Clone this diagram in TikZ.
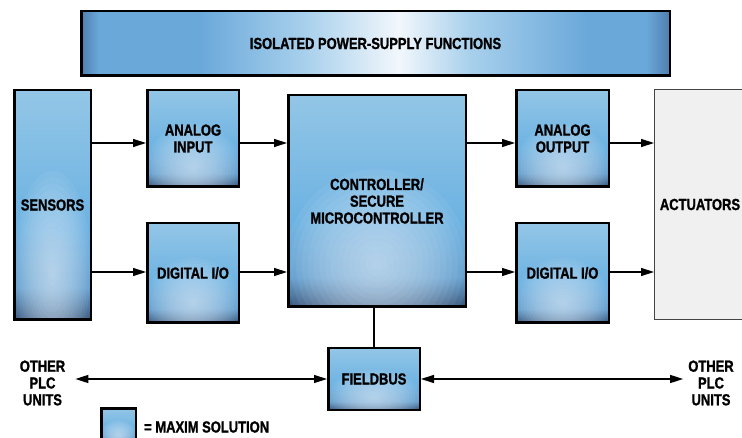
\documentclass[tikz,border=0pt]{standalone}
\usepackage{fontspec}
\newfontfamily\cond[FakeStretch=0.81, FakeBold=1.2, UprightFont={* Bold}, BoldFont={* Bold}]{Liberation Sans}
\usetikzlibrary{arrows.meta,calc}
\definecolor{bTop}{HTML}{93C6E6}
\definecolor{bMid}{HTML}{6CB2E2}
\definecolor{bLow}{HTML}{5C9ACB}
\definecolor{bBot}{HTML}{37557A}
\definecolor{spot}{HTML}{D6E8F8}
\definecolor{pbEdge}{HTML}{4F7FAE}
\definecolor{pbA}{HTML}{6AA8DA}
\definecolor{pbB}{HTML}{A8D0EC}
\definecolor{pbC}{HTML}{F2F7FC}
\definecolor{actFill}{HTML}{F0F0F0}
\definecolor{actLine}{HTML}{444444}
\pgfdeclareverticalshading{mxbox}{100bp}{color(0bp)=(bBot); color(25bp)=(bBot); color(32bp)=(bLow); color(45bp)=(bMid); color(75bp)=(bTop); color(100bp)=(bTop)}
\pgfdeclarehorizontalshading{pbar}{100bp}{color(0bp)=(pbEdge); color(25bp)=(pbEdge); color(26.5bp)=(pbA); color(35bp)=(pbA); color(44bp)=(pbB); color(52bp)=(pbC); color(58bp)=(pbB); color(68bp)=(pbA); color(73bp)=(pbA); color(75bp)=(pbEdge); color(100bp)=(pbEdge)}
\begin{document}
\begin{tikzpicture}[x=1pt,y=-1pt,
  every node/.style={font=\cond\fontsize{16}{16.8}\selectfont, align=center, inner sep=0pt},
  mx/.style={draw=black, line width=2.5pt, shading=mxbox,
    path picture={
      \foreach \k in {1,...,16}{
        \fill[spot, fill opacity=0.08]
          let \p1=(path picture bounding box.south west),
              \p2=(path picture bounding box.north east) in
          ({(\x1+\x2)/2},{0.8*\y1+0.2*\y2}) ellipse ({0.52*(\x2-\x1)*(17-\k)/16} and {0.45*(\y2-\y1)*(17-\k)/16});
      }
    }},
  pbox/.style={draw=black, line width=2.5pt, shading=pbar},
  actbox/.style={draw=actLine, line width=1pt, fill=actFill},
  arr/.style={line width=1.3pt, -{Triangle[length=13pt,width=8pt]}},
  darr/.style={line width=1.3pt, {Triangle[length=13pt,width=8pt]}-{Triangle[length=13pt,width=8pt]}},
  plain/.style={line width=1.3pt}
]
\useasboundingbox (0,0) rectangle (742,438);
\coordinate (rowA) at (0,143);
\coordinate (rowB) at (0,272);

\node[pbox, minimum width=588.5pt, minimum height=64.5pt] (psu) at (375.5,43.5) {ISOLATED POWER-SUPPLY FUNCTIONS};

\node[mx, minimum width=76.5pt, minimum height=229.5pt] (sens) at (52.5,205) {SENSORS};
\node[mx, minimum width=91.5pt, minimum height=96.5pt] (ain) at (193,138.5) {ANALOG\\INPUT};
\node[mx, minimum width=91.5pt, minimum height=99.5pt] (dinl) at (193,273) {DIGITAL I/O};
\node[mx, minimum width=177.5pt, minimum height=211.5pt] (ctrl) at (377,201) {CONTROLLER/\\SECURE\\MICROCONTROLLER};
\node[mx, minimum width=92.5pt, minimum height=96.5pt] (aout) at (562.5,138.5) {ANALOG\\OUTPUT};
\node[mx, minimum width=92.5pt, minimum height=99.5pt] (doutr) at (562.5,273) {DIGITAL I/O};
\node[actbox, minimum width=91pt, minimum height=230pt] (act) at (700,204.5) {ACTUATORS};
\node[mx, minimum width=91.5pt, minimum height=61.5pt] (fb) at (374,379) {FIELDBUS};

\node[inner xsep=10pt] (othl) at (42.5,383) {OTHER\\PLC\\UNITS};
\node[inner xsep=5pt] (othr) at (711,383) {OTHER\\PLC\\UNITS};

\node[mx, minimum width=34.5pt, minimum height=34.5pt] (leg) at (118.5,425.5) {};
\node[anchor=west] (legtxt) at (144,427) {= MAXIM SOLUTION};

\draw[arr] (sens.east |- rowA) -- (ain.west |- rowA);
\draw[arr] (ain.east |- rowA) -- (ctrl.west |- rowA);
\draw[arr] (sens.east |- rowB) -- (dinl.west |- rowB);
\draw[arr] (dinl.east |- rowB) -- (ctrl.west |- rowB);
\draw[arr] (ctrl.east |- rowA) -- (aout.west |- rowA);
\draw[arr] (aout.east |- rowA) -- (act.west |- rowA);
\draw[arr] (ctrl.east |- rowB) -- (doutr.west |- rowB);
\draw[arr] (doutr.east |- rowB) -- (act.west |- rowB);
\draw[plain] (ctrl.south -| fb.north) -- (fb.north);
\draw[darr] (fb.west) -- (fb.west -| othl.east);
\draw[darr] (fb.east) -- (fb.east -| othr.west);
\end{tikzpicture}
\end{document}
